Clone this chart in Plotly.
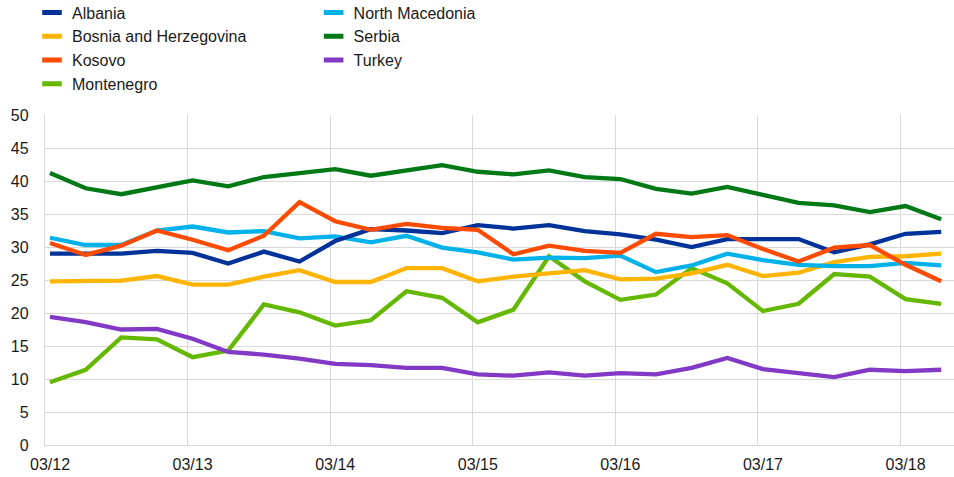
import plotly.graph_objects as go

quarters = ["03/12", "06/12", "09/12", "12/12", "03/13", "06/13", "09/13", "12/13",
            "03/14", "06/14", "09/14", "12/14", "03/15", "06/15", "09/15", "12/15",
            "03/16", "06/16", "09/16", "12/16", "03/17", "06/17", "09/17", "12/17",
            "03/18", "06/18"]

albania = [29.0, 29.0, 29.0, 29.4, 29.1, 27.5, 29.3, 27.8, 30.9, 32.7, 32.5, 32.1, 33.3,
           32.8, 33.3, 32.4, 31.9, 31.1, 30.0, 31.2, 31.2, 31.2, 29.2, 30.4, 32.0, 32.3]
bosnia = [24.8, 24.8, 24.9, 25.6, 24.3, 24.3, 25.5, 26.5, 24.7, 24.7, 26.8, 26.8, 24.8,
          25.5, 26.0, 26.5, 25.1, 25.2, 26.0, 27.3, 25.6, 26.1, 27.7, 28.5, 28.6, 29.0]
kosovo = [30.6, 28.8, 30.2, 32.5, 31.1, 29.5, 31.7, 36.8, 33.9, 32.6, 33.5, 32.9, 32.6,
          28.9, 30.2, 29.4, 29.1, 32.0, 31.5, 31.8, 29.7, 27.8, 29.9, 30.3, 27.3, 24.8]
montenegro = [9.5, 11.4, 16.3, 16.0, 13.3, 14.3, 21.3, 20.1, 18.1, 18.9, 23.3, 22.3, 18.6,
              20.5, 28.6, 24.8, 22.0, 22.8, 26.8, 24.5, 20.3, 21.4, 25.9, 25.5, 22.1, 21.4]
north_macedonia = [31.4, 30.3, 30.3, 32.5, 33.1, 32.2, 32.4, 31.3, 31.6, 30.7, 31.7, 29.9, 29.2,
                   28.1, 28.4, 28.3, 28.7, 26.2, 27.2, 29.0, 28.0, 27.3, 27.1, 27.1, 27.6, 27.2]
serbia = [41.2, 38.9, 38.0, 39.1, 40.1, 39.2, 40.6, 41.2, 41.8, 40.8, 41.6, 42.4, 41.4,
          41.0, 41.6, 40.6, 40.3, 38.8, 38.1, 39.1, 37.9, 36.7, 36.3, 35.3, 36.2, 34.2]
turkey = [19.4, 18.6, 17.5, 17.6, 16.1, 14.1, 13.7, 13.1, 12.3, 12.1, 11.7, 11.7, 10.7,
          10.5, 11.0, 10.5, 10.9, 10.7, 11.7, 13.2, 11.5, 10.9, 10.3, 11.4, 11.2, 11.4]

series = [
    ("Albania", albania, "#003299", "legend"),
    ("Bosnia and Herzegovina", bosnia, "#FFB400", "legend"),
    ("Kosovo", kosovo, "#FF4B00", "legend"),
    ("Montenegro", montenegro, "#65B800", "legend"),
    ("North Macedonia", north_macedonia, "#00B1EA", "legend2"),
    ("Serbia", serbia, "#007816", "legend2"),
    ("Turkey", turkey, "#8139C6", "legend2"),
]

draw_order = ["Montenegro", "Turkey", "Bosnia and Herzegovina", "North Macedonia",
              "Albania", "Kosovo", "Serbia"]

x = list(range(len(quarters)))
fig = go.Figure()
lookup = {s[0]: s for s in series}
for name in draw_order:
    _, vals, col, _ = lookup[name]
    fig.add_trace(go.Scatter(x=x, y=vals, mode="lines", name=name, showlegend=False,
                             line=dict(color=col, width=4.3), hoverinfo="x+y+name"))

for name, vals, col, lg in series:
    fig.add_trace(go.Scatter(x=[None], y=[None], mode="markers", name=name, legend=lg,
                             marker=dict(symbol="line-ew", size=14,
                                         line=dict(color=col, width=5))))

grid_off = 0.14
tick_idx = [i for i, q in enumerate(quarters) if q.startswith("03/")]
fig.update_xaxes(range=[-grid_off, 25.36], tickvals=[i - grid_off for i in tick_idx],
                 ticktext=[quarters[i] for i in tick_idx], ticklabelshift=5,
                 showgrid=True, gridcolor="#d9d9d9", gridwidth=1.3,
                 showline=True, linecolor="#d9d9d9", linewidth=1.3,
                 zeroline=False, ticks="outside", ticklen=5, tickcolor="rgba(0,0,0,0)",
                 tickfont=dict(size=16, color="#1a1a1a"))
fig.update_yaxes(range=[0, 50], dtick=5, showgrid=True, gridcolor="#d9d9d9", gridwidth=1.3,
                 zeroline=False, showline=True, linecolor="#d9d9d9", linewidth=1.3,
                 ticks="outside", ticklen=12, tickcolor="rgba(0,0,0,0)",
                 tickfont=dict(size=16, color="#1a1a1a"))

legend_common = dict(font=dict(size=16, color="#1a1a1a", family="Liberation Sans, Arial, sans-serif"),
                     bgcolor="rgba(0,0,0,0)", tracegroupgap=0, itemclick=False,
                     xanchor="left", yanchor="top", orientation="v")
fig.update_layout(
    width=954, height=477,
    margin=dict(l=45, r=0, t=115, b=32, autoexpand=False),
    paper_bgcolor="white", plot_bgcolor="white",
    font=dict(family="Liberation Sans, Arial, sans-serif", size=16, color="#1a1a1a"),
    legend=dict(x=-0.0143, y=1.362, **legend_common),
    legend2=dict(x=0.2955, y=1.362, **legend_common),
)

fig.write_html("out.html", config={"displayModeBar": False},
               post_script="document.body.style.margin='0';document.body.style.overflow='hidden';")
